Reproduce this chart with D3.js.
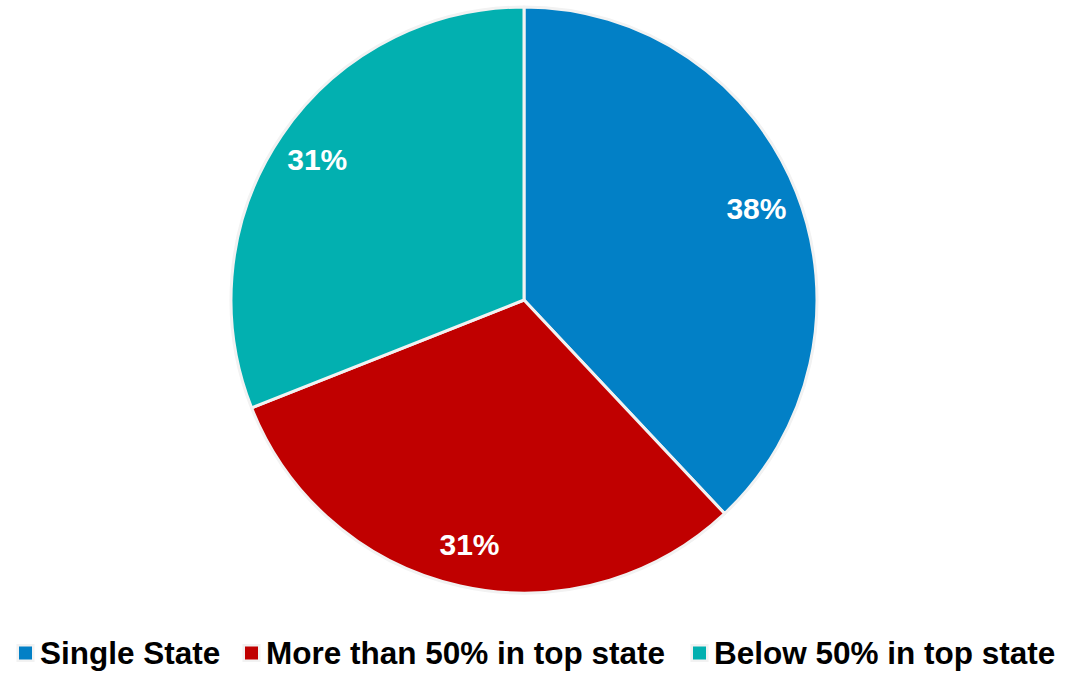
<!DOCTYPE html>
<html>
<head>
<meta charset="utf-8">
<script src="https://cdn.jsdelivr.net/npm/d3@7"></script>
<style>
  html, body { margin: 0; padding: 0; background: #ffffff; }
  svg { display: block; }
</style>
</head>
<body>
<svg id="chart" width="1091" height="673"></svg>
<script>
// Share of entities by concentration of activity in their top state
const categories = ["Single State", "More than 50% in top state", "Below 50% in top state"];
const values = [38, 31, 31];
const colors = ["#0280c6", "#c00000", "#02b0b0"];

const W = 1091, H = 673;
const cx = 524, cy = 300, radius = 293;
const fontStack = "'Liberation Sans', Arial, sans-serif";

const svg = d3.select("#chart");

const pie = d3.pie().sort(null).value(d => d.value);
const data = categories.map((c, i) => ({ name: c, value: values[i], color: colors[i] }));
const arcs = pie(data);

const arc = d3.arc().innerRadius(0).outerRadius(radius);
const labelArc = d3.arc().innerRadius(250).outerRadius(250);

const g = svg.append("g").attr("transform", `translate(${cx},${cy})`);

g.selectAll("path.slice")
  .data(arcs)
  .join("path")
  .attr("class", "slice")
  .attr("d", arc)
  .attr("fill", d => d.data.color)
  .attr("stroke", "#f2f2f2")
  .attr("stroke-width", 3)
  .attr("stroke-linejoin", "round");

// Percentage labels, vertically centred on the cap height
const labelSize = 30;
g.selectAll("text.pct")
  .data(arcs)
  .join("text")
  .attr("class", "pct")
  .attr("transform", d => {
    const [x, y] = labelArc.centroid(d);
    return `translate(${x},${y + labelSize * 0.358})`;
  })
  .attr("text-anchor", "middle")
  .attr("fill", "#ffffff")
  .style("font-family", fontStack)
  .style("font-weight", "bold")
  .style("font-size", labelSize + "px")
  .text(d => d.data.value + "%");

// Legend along the bottom
const legendX = [16, 242, 690];
const legendBaseline = 664;
const leg = svg.append("g");
const items = leg.selectAll("g.item")
  .data(data)
  .join("g")
  .attr("class", "item")
  .attr("transform", (d, i) => `translate(${legendX[i]},${legendBaseline})`);

items.append("rect")
  .attr("x", 0.5).attr("y", -20)
  .attr("width", 18).attr("height", 18)
  .attr("fill", "#f2f2f2");
items.append("rect")
  .attr("x", 3).attr("y", -17.5)
  .attr("width", 13).attr("height", 13)
  .attr("fill", d => d.color);

items.append("text")
  .attr("x", 24)
  .attr("y", 0)
  .attr("fill", "#000000")
  .style("font-family", fontStack)
  .style("font-weight", "bold")
  .style("font-size", "31.5px")
  .text(d => d.name);
</script>
</body>
</html>
